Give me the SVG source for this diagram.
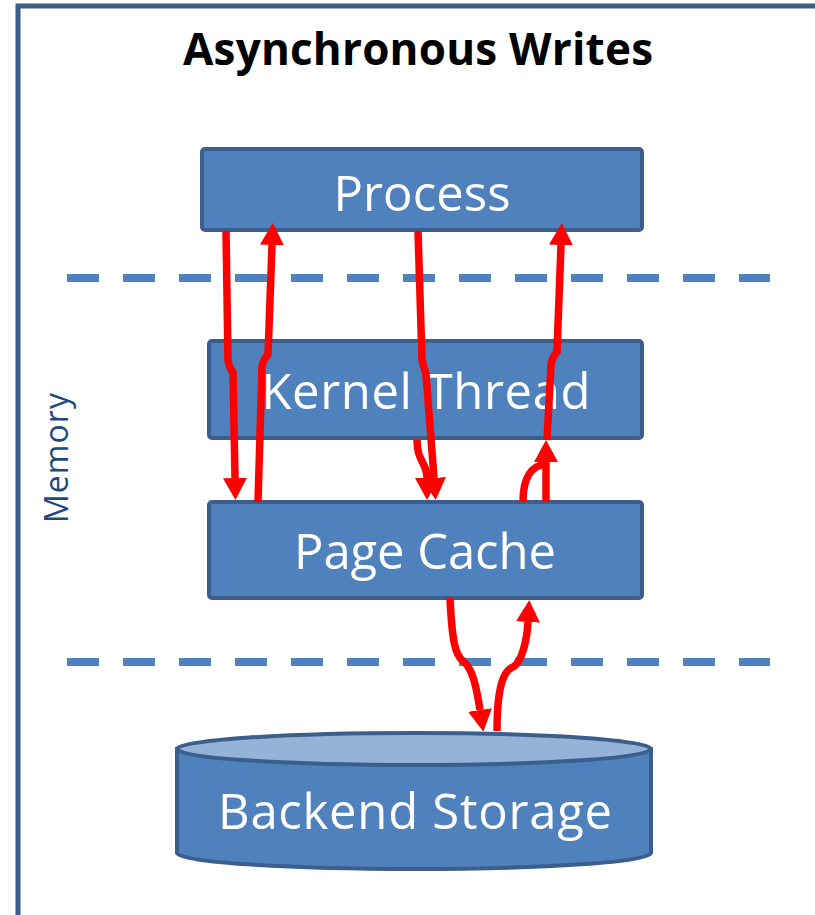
<svg xmlns="http://www.w3.org/2000/svg" width="815" height="915" viewBox="0 0 815 915">
<defs>
<style>
.box{fill:#4f81bd;stroke:#3b5f8d;stroke-width:4}
.lbl{font-family:"Open Sans","Liberation Sans",sans-serif;font-size:49px;fill:#ffffff;text-anchor:middle}
.dash{stroke:#4f81bd;stroke-width:8;stroke-dasharray:32 24;fill:none}
.arr{fill:none;stroke:#ff0000;stroke-width:7.5;stroke-linejoin:round}
</style>
<marker id="ah" viewBox="0 0 22 24" markerWidth="22" markerHeight="24" refX="0" refY="12" orient="auto" markerUnits="userSpaceOnUse">
<path d="M0,0 L22,12 L0,24 Z" fill="#ff0000"/>
</marker>
</defs>
<rect width="815" height="915" fill="#ffffff"/>
<g id="frame">
<path d="M18,915 L18,6 L815,6" fill="none" stroke="#3b5f8d" stroke-width="5"/>
</g>
<text id="title" x="418" y="65" font-family="'Open Sans','Liberation Sans',sans-serif" font-weight="bold" font-size="44" text-anchor="middle" textLength="470" fill="#000000">Asynchronous Writes</text>
<text id="memory" transform="translate(68,458) rotate(-90)" x="0" y="0" font-family="'Open Sans','Liberation Sans',sans-serif" font-size="32" text-anchor="middle" textLength="130" fill="#1f497d">Memory</text>
<g id="dividers">
<line class="dash" x1="67" y1="278" x2="770" y2="278"/>
<line class="dash" x1="67" y1="662" x2="770" y2="662"/>
</g>
<g id="process">
<rect class="box" x="202" y="149" width="440" height="81" rx="3"/>
<text class="lbl" x="422" y="211" textLength="177">Process</text>
</g>
<g id="kernel-thread">
<rect class="box" x="209" y="341" width="433" height="97" rx="3"/>
<text class="lbl" x="426" y="409" textLength="329">Kernel Thread</text>
</g>
<g id="page-cache">
<rect class="box" x="209" y="502" width="433" height="96" rx="3"/>
<text class="lbl" x="425" y="569" textLength="262">Page Cache</text>
</g>
<g id="backend-storage">
<path d="M177,749 L177,853 A237,16 0 0 0 651,853 L651,749 Z" fill="#4f81bd" stroke="#3b5f8d" stroke-width="4"/>
<ellipse cx="414" cy="749" rx="237" ry="16" fill="#95b3d7" stroke="#3b5f8d" stroke-width="4"/>
<text class="lbl" x="415" y="829" textLength="394">Backend Storage</text>
</g>
<g id="connectors">
<path class="arr" marker-end="url(#ah)" d="M226,231 L228,360 Q229,368 233,372 L235,478"/>
<path class="arr" marker-end="url(#ah)" d="M258,502 L262,366 Q264,358 268,355 L272,245"/>
<path class="arr" marker-end="url(#ah)" d="M418,231 L422,360 Q424,368 426,374 L434,478"/>
<path class="arr" marker-end="url(#ah)" d="M417,440 C417,462 427,462 427,478"/>
<path class="arr" marker-end="url(#ah)" d="M546,502 L546,462"/>
<path class="arr" d="M523,502 C523,478 530,466 546,464"/>
<path class="arr" marker-end="url(#ah)" d="M547,440 L551,364 Q553,356 557,352 L561,245"/>
<path class="arr" marker-end="url(#ah)" d="M450,598 C452,640 455,655 463,661 C472,668 476,684 480,710"/>
<path class="arr" marker-end="url(#ah)" d="M497,731 C497,700 500,672 513,667 C522,662 527,640 528,622"/>
</g>
</svg>
